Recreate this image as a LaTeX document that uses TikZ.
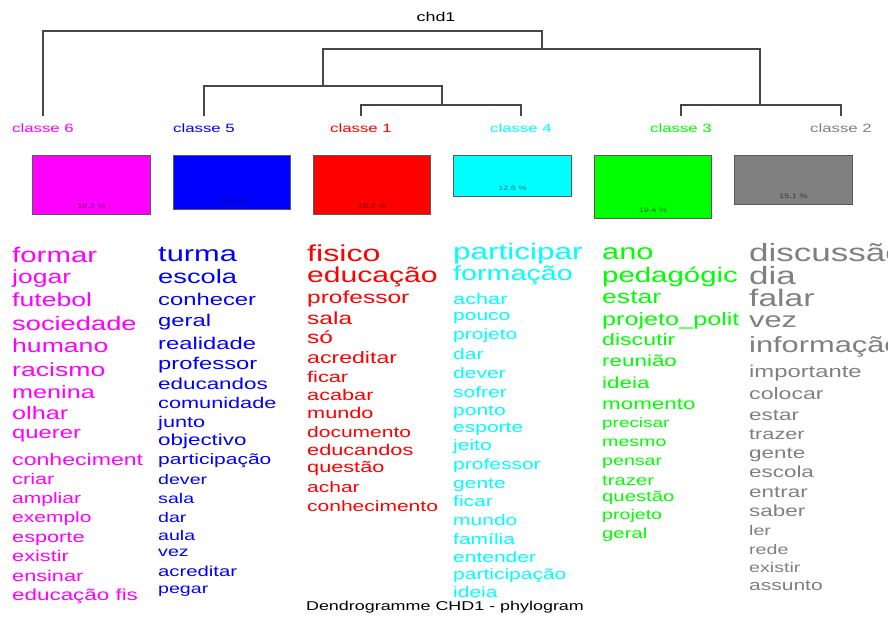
\documentclass[tikz,border=0pt]{standalone}
\usepackage{fontspec}
\setmainfont{Liberation Sans}
\newfontfamily\wf[FakeStretch=1.4]{Liberation Sans}
\definecolor{cpink}{RGB}{255,0,255}
\definecolor{cblue}{RGB}{0,0,255}
\definecolor{cred}{RGB}{255,0,0}
\definecolor{ccyan}{RGB}{0,255,255}
\definecolor{cgreen}{RGB}{0,255,0}
\definecolor{cgrey}{RGB}{128,128,128}
\begin{document}
\begin{tikzpicture}[x=1pt,y=-1pt,
  word/.style={anchor=mid west, inner sep=0pt, yshift=-4pt},
  dend/.style={draw=black!72, line width=1.2pt},
  classlbl/.style={inner sep=2pt, font=\wf\fontsize{12}{12}\selectfont},
  classbox/.style={draw=black!65, line width=1pt, anchor=north west, inner sep=0pt},
  pct/.style={inner sep=0pt, text=black, text opacity=0.55, font=\wf\fontsize{6.5}{6.5}\selectfont},
  plain/.style={inner sep=0pt, font=\wf\fontsize{12.8}{12.8}\selectfont, text=black}]
\fill[white] (0,0) rectangle (888,621);
\useasboundingbox (0,0) rectangle (888,621);

% dendrogram
\node[plain] (root) at (436,17) {chd1};
\node[classlbl, text=cpink]  (c6) at (43,128) {classe 6};
\node[classlbl, text=cblue]  (c5) at (204,128) {classe 5};
\node[classlbl, text=cred]   (c1) at (361,128) {classe 1};
\node[classlbl, text=ccyan]  (c4) at (521,128) {classe 4};
\node[classlbl, text=cgreen] (c3) at (681,128) {classe 3};
\node[classlbl, text=cgrey]  (c2) at (841,128) {classe 2};
\coordinate (k0) at (542,31);
\coordinate (kA) at (542,49);
\coordinate (kB) at (323,86);
\coordinate (kC) at (442,105);
\coordinate (kD) at (760,105);
\draw[dend] ([yshift=5pt]c6.north) |- (k0) -- (kA);
\draw[dend] (kB) |- (kA) -| (kD);
\draw[dend] ([yshift=5pt]c5.north) |- (kB) -| (kC);
\draw[dend] ([yshift=5pt]c1.north) |- (kC) -| ([yshift=5pt]c4.north);
\draw[dend] ([yshift=5pt]c3.north) |- (kD) -| ([yshift=5pt]c2.north);

% class boxes
\node[classbox, fill=cpink,  minimum width=118pt, minimum height=59pt] (b6) at (32,155) {};
\node[classbox, fill=cblue,  minimum width=117pt, minimum height=54pt] (b5) at (173,155) {};
\node[classbox, fill=cred,   minimum width=117pt, minimum height=59pt] (b1) at (313,155) {};
\node[classbox, fill=ccyan,  minimum width=118pt, minimum height=41pt] (b4) at (453,155) {};
\node[classbox, fill=cgreen, minimum width=117pt, minimum height=63pt] (b3) at (594,155) {};
\node[classbox, fill=cgrey,  minimum width=118pt, minimum height=49pt] (b2) at (734,155) {};
\node[pct] (p6) at ([yshift=9pt]b6.south) {18.2 \%};
\node[pct] (p5) at ([yshift=9pt]b5.south) {16.6 \%};
\node[pct] (p1) at ([yshift=9pt]b1.south) {18.2 \%};
\node[pct] (p4) at ([yshift=9pt]b4.south) {12.6 \%};
\node[pct] (p3) at ([yshift=9pt]b3.south) {19.4 \%};
\node[pct] (p2) at ([yshift=9pt]b2.south) {15.1 \%};

% word columns
\begin{scope}
\clip (0,230) rectangle (148,621);
\foreach \w/\yy/\sz [count=\i] in {formar/256/21, jogar/277/19, futebol/300/19, sociedade/324/19.5, humano/346/19, racismo/370/19, menina/392/18, olhar/413/18, querer/432/17, conheciment/459/16.5, criar/478/15.5, ampliar/497/15, exemplo/516/15, esporte/536/15.5, existir/555/15.5, ensinar/575/15.5, educação fis/594/16}
  \node[word, text=cpink, font=\wf\fontsize{\sz}{\sz}\selectfont] (pk\i) at (12,\yy) {\w};
\end{scope}
\begin{scope}
\clip (150,230) rectangle (300,621);
\foreach \w/\yy/\sz [count=\i] in {turma/255/22, escola/277/19.5, conhecer/299/17, geral/320/17, realidade/343/17, professor/363/17, educandos/383/16, comunidade/402/15.5, junto/421/15.5, objectivo/439/16, participação/458/15, dever/478/14, sala/497/14, dar/516/14, aula/534/14, vez/550/14, acreditar/570/14.5, pegar/587/14}
  \node[word, text=cblue, font=\wf\fontsize{\sz}{\sz}\selectfont] (bl\i) at (158,\yy) {\w};
\end{scope}
\begin{scope}
\clip (300,230) rectangle (447,621);
\foreach \w/\yy/\sz [count=\i] in {fisico/255/23, educação/276/21.5, professor/297/17.5, sala/318/17.5, só/337/17.5, acreditar/357/16.5, ficar/376/15.5, acabar/394/15.5, mundo/412/15.5, documento/431/15, educandos/449/15.5, questão/466/15.5, achar/486/15, conhecimento/505/15}
  \node[word, text=cred, font=\wf\fontsize{\sz}{\sz}\selectfont] (rd\i) at (307,\yy) {\w};
\end{scope}
\begin{scope}
\clip (447,230) rectangle (595,621);
\foreach \w/\yy/\sz [count=\i] in {participar/253/22.5, formação/274/20.5, achar/298/15.5, pouco/314/15, projeto/333/15, dar/353/15, dever/372/15, sofrer/391/15, ponto/409/15, esporte/426/15, jeito/444/15, professor/463/15, gente/482/15, ficar/500/15, mundo/519/15, família/538/15, entender/556/15, participação/573/15, ideia/591/15}
  \node[word, text=ccyan, font=\wf\fontsize{\sz}{\sz}\selectfont] (cy\i) at (453,\yy) {\w};
\end{scope}
\begin{scope}
\clip (595,230) rectangle (740,621);
\foreach \w/\yy/\sz [count=\i] in {ano/253/22, pedagógic/276/21, estar/297/19, projeto\_polit/319/18, discutir/339/16.5, reunião/360/16, ideia/382/16, momento/403/16, precisar/421/13.5, mesmo/440/14, pensar/459/14, trazer/479/14.5, questão/495/14.5, projeto/513/14, geral/532/14.5}
  \node[word, text=cgreen, font=\wf\fontsize{\sz}{\sz}\selectfont] (gn\i) at (602,\yy) {\w};
\end{scope}
\begin{scope}
\clip (744,230) rectangle (888,621);
\foreach \w/\yy/\sz [count=\i] in {discussão/255/25, dia/278/25, falar/300/24, vez/321/22, informação/346/22, importante/371/17, colocar/393/16.5, estar/414/16, trazer/433/15.5, gente/452/16, escola/471/16, entrar/491/16, saber/510/16, ler/529/14, rede/548/14, existir/566/14, assunto/584/15}
  \node[word, text=cgrey, font=\wf\fontsize{\sz}{\sz}\selectfont] (gy\i) at (749,\yy) {\w};
\end{scope}

\node[plain] (cap) at (445,607) {Dendrogramme CHD1 - phylogram};
\end{tikzpicture}
\end{document}
